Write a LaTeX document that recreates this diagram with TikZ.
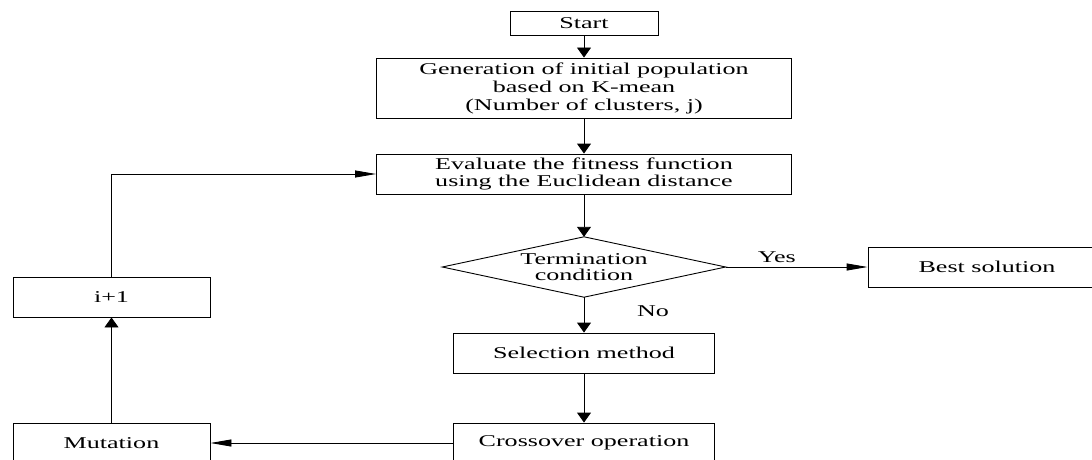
\documentclass[tikz,border=0pt]{standalone}
\usepackage{fontspec}
\setmainfont[FakeStretch=1.58]{Liberation Serif}
\usetikzlibrary{arrows.meta}
\begin{document}
\begin{tikzpicture}[x=1pt,y=-1pt,
  box/.style={draw, line width=0.9pt, rectangle, inner sep=0pt, align=center,
    font=\fontsize{16.5}{18}\selectfont},
  varr/.style={-{Triangle[length=10pt,width=14pt]}, line width=0.9pt},
  harr/.style={-{Triangle[length=21pt,width=7pt]}, line width=0.9pt},
  lbl/.style={font=\fontsize{16.5}{18}\selectfont, inner sep=0pt}]
\useasboundingbox (0,0) rectangle (1092,460);
\clip (0,0) rectangle (1092,460);
\node[box, minimum width=148pt, minimum height=24pt] (start) at (584,23) {Start};
\node[box, minimum width=415pt, minimum height=60pt] (gen) at (584,88)
  {Generation of initial population\\
   based on K-mean\\
   (Number of clusters, j)};
\node[box, minimum width=415pt, minimum height=40pt, font=\fontsize{16.5}{17}\selectfont] (eval) at (584,174)
  {Evaluate the fitness function\\
   using the Euclidean distance};
\node[minimum width=283pt, minimum height=60pt, inner sep=0pt, align=center,
  font=\fontsize{16.5}{16.5}\selectfont] (term) at (584,267) {Termination\\condition};
\draw[line width=0.9pt] (term.north) -- (term.east) -- (term.south) -- (term.west) -- cycle;
\node[box, minimum width=238pt, minimum height=40pt] (best) at (987,267) {Best solution};
\node[box, minimum width=261pt, minimum height=40pt] (sel) at (584,353) {Selection method};
\node[box, minimum width=261pt, minimum height=40pt] (cross) at (584,443) {Crossover operation};
\node[box, minimum width=197pt, minimum height=40pt] (mut) at (111.5,443) {Mutation};
\node[box, minimum width=197pt, minimum height=40pt] (inc) at (111.5,297) {i+1};
\draw[varr] (start) -- (gen);
\draw[varr] (gen) -- (eval);
\draw[varr] (eval) -- (term.north);
\draw[harr] (term.east) -- node[lbl, pos=0.36, above=4pt] {Yes} (best.west);
\draw[varr] (term.south) -- node[lbl, pos=0.4, xshift=69pt] {No} (sel.north);
\draw[varr] (sel) -- (cross);
\draw[harr] (cross) -- (mut);
\draw[varr] (mut) -- (inc);
\draw[harr] (inc.north) |- (eval.west);
\end{tikzpicture}
\end{document}
